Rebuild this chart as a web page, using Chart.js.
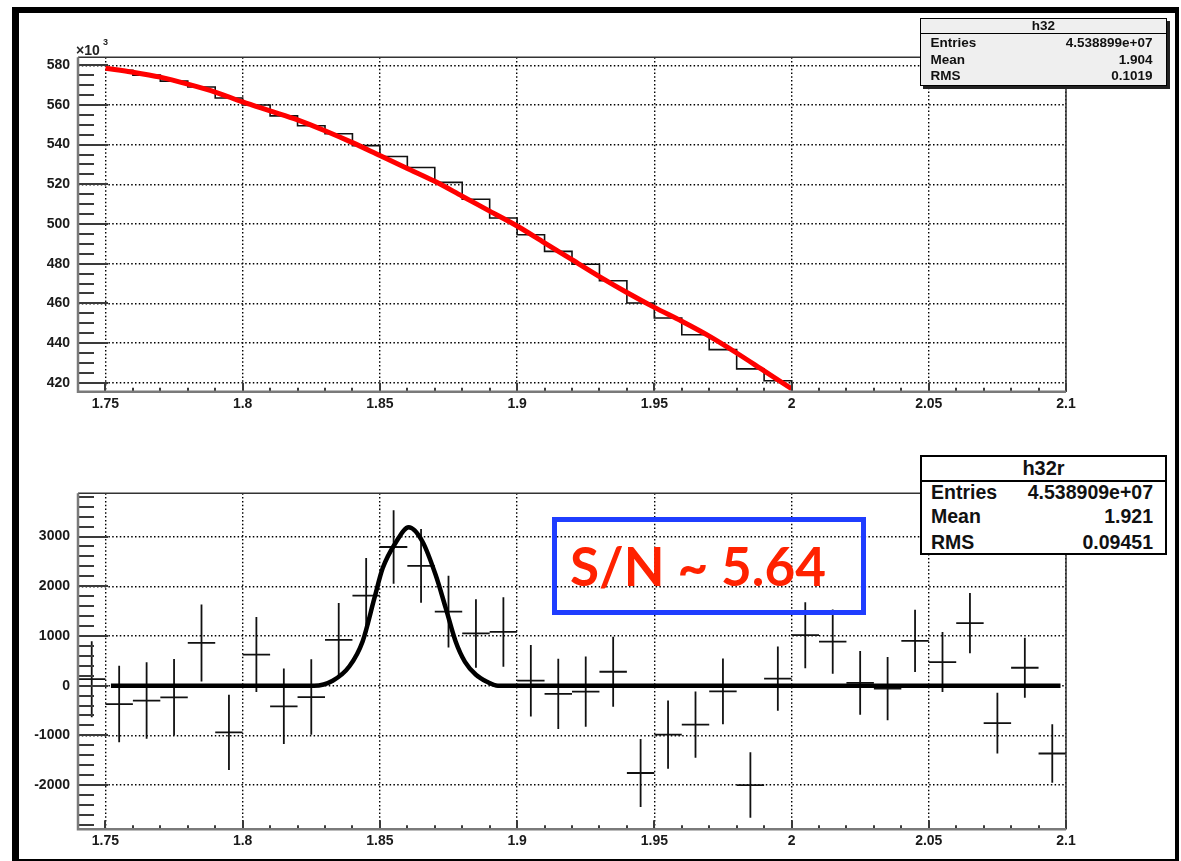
<!DOCTYPE html>
<html>
<head>
<meta charset="utf-8">
<script src="https://cdn.jsdelivr.net/npm/chart.js@4.4.1/dist/chart.umd.min.js"></script>
<style>
html,body{margin:0;padding:0;background:#fff;width:1181px;height:861px;overflow:hidden;position:relative;}
canvas{position:absolute;left:0;}
#c1{top:0;}
#c2{top:430px;}
.frame{position:absolute;left:12px;top:7px;width:1167px;height:856px;box-sizing:border-box;border-style:solid;border-color:#000;border-width:6px 4px 4px 7px;pointer-events:none;}
.box{position:absolute;box-sizing:border-box;border:solid #000;}
.t{position:absolute;white-space:nowrap;font-family:'Liberation Sans',Arial,sans-serif;font-weight:bold;color:#111;}
</style>
</head>
<body>
<canvas id="c1" width="1181" height="430"></canvas>
<canvas id="c2" width="1181" height="431"></canvas>

<!-- x10^3 multiplier -->
<div class="t" style="left:76px;top:42.5px;font-size:14px;line-height:14px;color:#222;">×10</div>
<div class="t" style="left:103px;top:37.5px;font-size:9px;line-height:9px;color:#222;">3</div>

<!-- top stats box h32 -->
<div class="box" style="left:920px;top:18px;width:247px;height:68px;border-width:1.5px;background:#efefef;box-shadow:3px 3px 0 #222;"></div>
<div style="position:absolute;left:921px;top:32.5px;width:245px;height:1.5px;background:#000;"></div>
<div class="t" style="left:920px;width:247px;text-align:center;top:19px;font-size:13.5px;line-height:13.5px;">h32</div>
<div class="t" style="left:930.5px;top:36px;font-size:13.5px;line-height:13.5px;">Entries</div>
<div class="t" style="right:28.5px;top:36px;font-size:13.5px;line-height:13.5px;">4.538899e+07</div>
<div class="t" style="left:930.5px;top:52.5px;font-size:13.5px;line-height:13.5px;">Mean</div>
<div class="t" style="right:28.5px;top:52.5px;font-size:13.5px;line-height:13.5px;">1.904</div>
<div class="t" style="left:930.5px;top:68.5px;font-size:13.5px;line-height:13.5px;">RMS</div>
<div class="t" style="right:28.5px;top:68.5px;font-size:13.5px;line-height:13.5px;">0.1019</div>

<!-- bottom stats box h32r -->
<div class="box" style="left:920px;top:455px;width:247px;height:100px;border-width:2px;background:#fff;"></div>
<div style="position:absolute;left:921px;top:479.7px;width:245px;height:2px;background:#000;"></div>
<div class="t" style="left:920px;width:247px;text-align:center;top:458px;font-size:20px;line-height:20px;">h32r</div>
<div class="t" style="left:931px;top:482.5px;font-size:19.5px;line-height:19.5px;">Entries</div>
<div class="t" style="right:28px;top:482.5px;font-size:19.5px;line-height:19.5px;">4.538909e+07</div>
<div class="t" style="left:931px;top:506.5px;font-size:19.5px;line-height:19.5px;">Mean</div>
<div class="t" style="right:28px;top:506.5px;font-size:19.5px;line-height:19.5px;">1.921</div>
<div class="t" style="left:931px;top:533px;font-size:19.5px;line-height:19.5px;">RMS</div>
<div class="t" style="right:28px;top:533px;font-size:19.5px;line-height:19.5px;">0.09451</div>

<!-- S/N annotation -->
<div class="box" style="left:552px;top:517px;width:314px;height:98px;border-width:5px;border-color:#1f3dff;"></div>
<div style="position:absolute;left:570px;top:534px;font-family:Lato,'Open Sans',sans-serif;font-weight:bold;font-size:53px;line-height:64px;color:#ff2200;white-space:nowrap;">S/N ~ 5.64</div>

<div class="frame"></div>

<script>
// ---------------- data ----------------
const xMin = 1.74, xMax = 2.1;
const xTickLabels = ['1.75', '1.8', '1.85', '1.9', '1.95', '2', '2.05', '2.1'];

// top panel: h32 histogram (counts in units of 10^3), bin edges and contents
const topBinEdges = [1.75, 1.76, 1.77, 1.78, 1.79, 1.80, 1.81, 1.82, 1.83, 1.84, 1.85, 1.86, 1.87,
                     1.88, 1.89, 1.90, 1.91, 1.92, 1.93, 1.94, 1.95, 1.96, 1.97, 1.98, 1.99, 2.00];
const topCountsK = [577.5, 575, 572, 569, 563.5, 560, 554.5, 549.5, 545.5, 539.5, 534, 528.5, 521,
                    512.5, 503, 494.6, 486.2, 479.7, 471.4, 460.2, 452.6, 444.2, 436.7, 427, 421];
// top panel: red background fit (10^3)
const topFitX = [1.75, 1.76, 1.77, 1.78, 1.79, 1.80, 1.81, 1.82, 1.83, 1.84, 1.85, 1.86, 1.87,
                 1.88, 1.89, 1.90, 1.91, 1.92, 1.93, 1.94, 1.95, 1.96, 1.97, 1.98, 1.99, 2.00];
const topFitK = [578.5, 576.5, 574, 570.5, 566.5, 561.5, 557, 552.5, 547, 541, 534.5, 528, 521.5,
                 514, 506.5, 499, 490.5, 482, 473.5, 465.5, 458, 451, 443.5, 435, 426, 417];
const topYTickLabels = ['420', '440', '460', '480', '500', '520', '540', '560', '580'];

// bottom panel: h32r residuals with errors
const resX = [1.745, 1.755, 1.765, 1.775, 1.785, 1.795, 1.805, 1.815, 1.825, 1.835, 1.845, 1.855,
              1.865, 1.875, 1.885, 1.895, 1.905, 1.915, 1.925, 1.935, 1.945, 1.955, 1.965, 1.975,
              1.985, 1.995, 2.005, 2.015, 2.025, 2.035, 2.045, 2.055, 2.065, 2.075, 2.085, 2.095];
const resY = [130, -370, -300, -235, 860, -940, 625, -416, -229, 920, 1810, 2790,
              2410, 1490, 1050, 1080, 100, -165, -120, 280, -1757, -985, -784, -115,
              -2000, 141, 1015, 887, 55, -60, 900, 475, 1259, -755, 360, -1365];
const resErr = [765, 770, 770, 770, 775, 755, 755, 760, 760, 745, 760, 740,
                740, 720, 690, 700, 720, 705, 705, 705, 685, 685, 665, 660,
                660, 645, 665, 645, 640, 635, 625, 605, 605, 610, 605, 590];
const resHalfWidth = 0.005;
// bottom panel: gaussian signal fit
const gausX = [1.752, 1.826, 1.8328, 1.8389, 1.8437, 1.848, 1.851, 1.856, 1.8605, 1.8655, 1.8703,
               1.874, 1.8776, 1.881, 1.885, 1.889, 1.893, 2.098];
const gausY = [0, 0, 100, 390, 890, 1760, 2360, 2900, 3185, 2900, 2230, 1560, 890, 480, 220, 80, 0, 0];
const botYTickLabels = ['-2000', '-1000', '0', '1000', '2000', '3000'];

// ---------------- helpers ----------------
const isMult = (v, s) => Math.abs(v / s - Math.round(v / s)) < 1e-6;
const labelFor = (list) => (v) => {
  const f = list.find(l => Math.abs(parseFloat(l) - v) < 1e-6);
  return f === undefined ? '' : f;
};
const stepTicks = (min, max, step) => (s) => {
  const t = [];
  for (let k = Math.ceil(min / step - 1e-9); k * step <= max + 1e-9; k++) t.push({value: +(k * step).toFixed(6)});
  s.ticks = t;
};

Chart.defaults.font.family = "'Liberation Sans', Arial, sans-serif";
Chart.defaults.font.size = 14;
Chart.defaults.font.weight = 'bold';
Chart.defaults.color = '#1a1a1a';
Chart.defaults.animation = false;

const rootFrame = {
  id: 'rootFrame',
  afterDatasetsDraw(chart, args, o) {
    const {ctx, chartArea: a, scales: {x, y}} = chart;
    ctx.save();
    ctx.lineCap = 'butt';
    ctx.strokeStyle = '#333'; ctx.lineWidth = 1.5;
    ctx.beginPath();
    ctx.moveTo(a.left, a.top); ctx.lineTo(a.right, a.top); ctx.lineTo(a.right, a.bottom);
    ctx.stroke();
    ctx.strokeStyle = '#3a3a3a'; ctx.lineWidth = 2;
    ctx.beginPath();
    x.ticks.forEach(t => {
      const px = Math.round(x.getPixelForValue(t.value));
      const len = isMult(t.value, o.xMajor) ? 9 : 4;
      ctx.moveTo(px, a.bottom); ctx.lineTo(px, a.bottom - len);
    });
    y.ticks.forEach(t => {
      const py = Math.round(y.getPixelForValue(t.value));
      const len = isMult(t.value, o.yMajor) ? 30 : 16;
      ctx.moveTo(a.left, py); ctx.lineTo(a.left + len, py);
    });
    ctx.stroke();
    ctx.strokeStyle = '#7a7a7a'; ctx.lineWidth = 2.5;
    ctx.beginPath();
    ctx.moveTo(a.left, a.top); ctx.lineTo(a.left, a.bottom); ctx.lineTo(a.right, a.bottom);
    ctx.stroke();
    ctx.restore();
  }
};

function xScale(height, pad) {
  return {
    type: 'linear', min: xMin, max: xMax,
    afterFit: (s) => { s.height = height; },
    afterBuildTicks: stepTicks(xMin, xMax, 0.01),
    ticks: { autoSkip: false, maxRotation: 0, padding: pad, callback: labelFor(xTickLabels) },
    grid: { drawTicks: false, lineWidth: 1.4,
            color: (c) => (c.tick && isMult(c.tick.value, 0.05)) ? '#000' : 'rgba(0,0,0,0)' },
    border: { display: false, dash: [1.5, 2.3] }
  };
}
function yScale(min, max, step, major, labels) {
  return {
    type: 'linear', min, max,
    afterFit: (s) => { s.width = 78; },
    afterBuildTicks: stepTicks(min, max, step),
    ticks: { autoSkip: false, padding: 8, callback: labelFor(labels) },
    grid: { drawTicks: false, lineWidth: 1.4,
            color: (c) => (c.tick && isMult(c.tick.value, major)) ? '#000' : 'rgba(0,0,0,0)' },
    border: { display: false, dash: [1.5, 2.3] }
  };
}

// ---------------- top chart ----------------
const histPts = [];
topCountsK.forEach((v, i) => {
  histPts.push({x: topBinEdges[i], y: v}, {x: topBinEdges[i + 1], y: v});
});
histPts.push({x: topBinEdges[topBinEdges.length - 1], y: 415.5});

new Chart(document.getElementById('c1'), {
  type: 'line',
  data: {
    datasets: [
      { label: 'fit', order: 0, data: topFitX.map((x, i) => ({x, y: topFitK[i]})),
        borderColor: '#ff0000', borderWidth: 5, pointRadius: 0, cubicInterpolationMode: 'monotone', fill: false },
      { label: 'h32', order: 1, data: histPts, borderColor: '#111', borderWidth: 1.6, pointRadius: 0, tension: 0, fill: false }
    ]
  },
  options: {
    responsive: false, devicePixelRatio: 1,
    layout: { padding: { left: 0, top: 57.3, right: 115, bottom: 0 } },
    plugins: { legend: { display: false }, tooltip: { enabled: false }, rootFrame: { xMajor: 0.05, yMajor: 20 } },
    scales: {
      x: xScale(430 - 391.7, 4),
      y: yScale(415.5, 584, 5, 20, topYTickLabels)
    }
  },
  plugins: [rootFrame]
});

// ---------------- bottom chart ----------------
const errPts = [];
resX.forEach((x, i) => {
  errPts.push({x: x - resHalfWidth, y: resY[i]}, {x: x + resHalfWidth, y: resY[i]}, {x: x, y: null},
              {x: x, y: resY[i] - resErr[i]}, {x: x, y: resY[i] + resErr[i]}, {x: x, y: null});
});

new Chart(document.getElementById('c2'), {
  type: 'line',
  data: {
    datasets: [
      { label: 'gaus', order: 0, data: gausX.map((x, i) => ({x, y: gausY[i]})),
        borderColor: '#000', borderWidth: 4.5, pointRadius: 0, cubicInterpolationMode: 'monotone', fill: false },
      { label: 'h32r', order: 1, data: errPts, borderColor: '#111', borderWidth: 1.8, pointRadius: 0,
        spanGaps: false, tension: 0, fill: false }
    ]
  },
  options: {
    responsive: false, devicePixelRatio: 1,
    layout: { padding: { left: 0, top: 63.3, right: 115, bottom: 0 } },
    plugins: { legend: { display: false }, tooltip: { enabled: false }, rootFrame: { xMajor: 0.05, yMajor: 1000 } },
    scales: {
      x: xScale(431 - 399.3, 3),
      y: yScale(-2890, 3870, 200, 1000, botYTickLabels)
    }
  },
  plugins: [rootFrame]
});
</script>
</body>
</html>
